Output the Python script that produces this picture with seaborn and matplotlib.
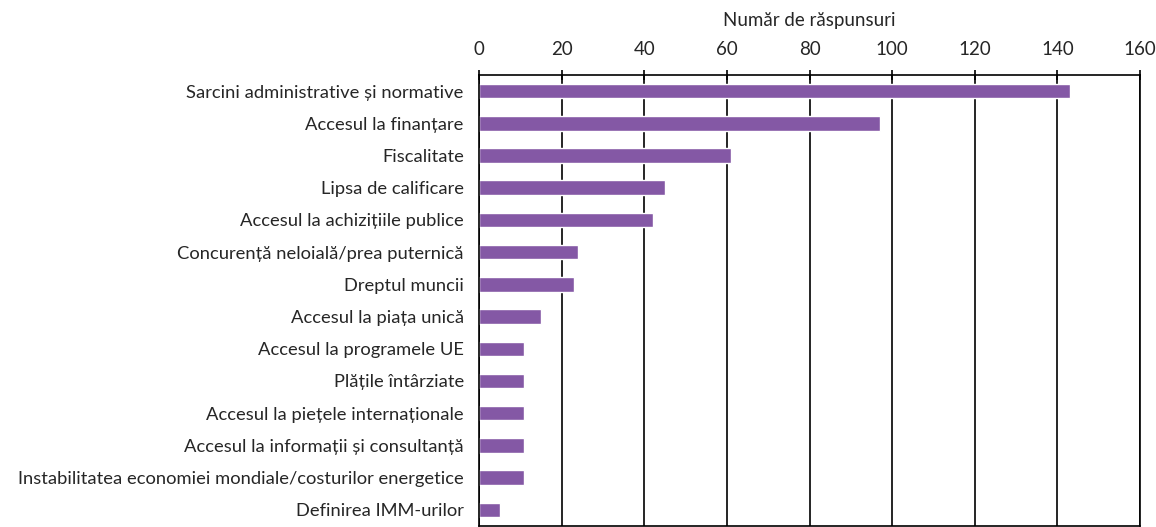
import seaborn as sns
import matplotlib.pyplot as plt
import numpy as np
import pandas as pd

# Obstacole raportate (număr de răspunsuri)
categories = [
    "Sarcini administrative și normative",
    "Accesul la finanțare",
    "Fiscalitate",
    "Lipsa de calificare",
    "Accesul la achizițiile publice",
    "Concurență neloială/prea puternică",
    "Dreptul muncii",
    "Accesul la piața unică",
    "Accesul la programele UE",
    "Plățile întârziate",
    "Accesul la piețele internaționale",
    "Accesul la informații și consultanță",
    "Instabilitatea economiei mondiale/costurilor energetice",
    "Definirea IMM-urilor",
]
responses = [143, 97, 61, 45, 42, 24, 23, 15, 11, 11, 11, 11, 11, 5]
x_ticks = [0, 20, 40, 60, 80, 100, 120, 140, 160]

df = pd.DataFrame({"categorie": categories, "raspunsuri": responses})

sns.set_style("white")
plt.rcParams['font.family'] = ['Lato', 'DejaVu Sans']

fig = plt.figure(figsize=(11.56, 5.27), dpi=100)
ax = fig.add_axes([0.4144, 0.002, 0.5718, 0.8558])

sns.barplot(data=df, x="raspunsuri", y="categorie", orient="h",
            color="#8458a5", saturation=1, width=0.45, ax=ax)

ax.set_xlim(0, 160)
ax.set_ylim(len(categories) - 0.5, -0.5)

# axa X sus, cu grilă verticală neagră
ax.xaxis.tick_top()
ax.xaxis.set_label_position("top")
ax.set_xticks(x_ticks)
ax.set_xticklabels([str(t) for t in x_ticks], fontsize=13.5)
ax.tick_params(axis="x", direction="inout", length=7, width=1.2,
               color="black", pad=8.5)
ax.set_xlabel("Număr de răspunsuri", fontsize=13.5, labelpad=11)
ax.grid(axis="x", color="black", linewidth=1.2)
ax.set_axisbelow(True)

# etichete centrate pe bare, semne între categorii
ax.set_ylabel("")
ax.set_yticks(range(len(categories)))
ax.set_yticklabels(categories, fontsize=13.2)
ax.tick_params(axis="y", which="major", length=0, pad=11)
ax.set_yticks(np.arange(-0.5, len(categories) + 0.5, 1), minor=True)
ax.tick_params(axis="y", which="minor", direction="out", length=5,
               width=1.2, color="black")

for side in ["top", "bottom", "left", "right"]:
    ax.spines[side].set_visible(True)
    ax.spines[side].set_color("black")
    ax.spines[side].set_linewidth(1.2)

fig.savefig("out.png", dpi=100)
